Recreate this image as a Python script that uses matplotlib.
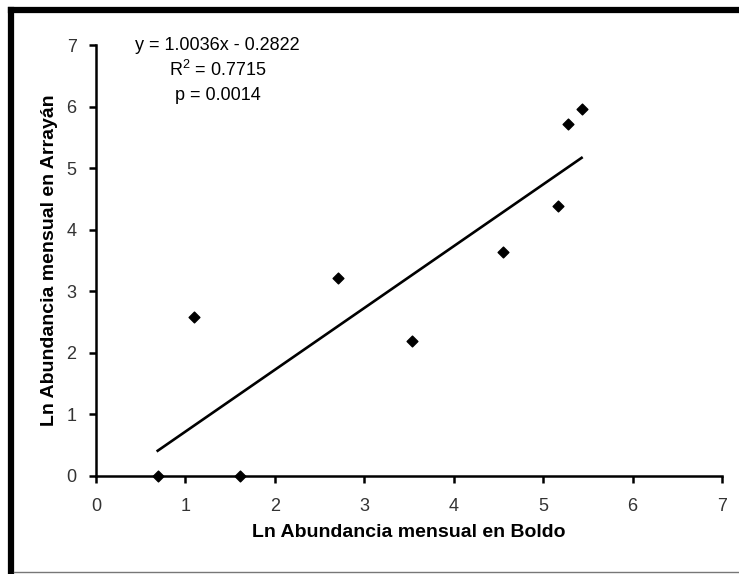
import numpy as np
import matplotlib.pyplot as plt
from matplotlib.lines import Line2D

# Ln monthly abundance, Boldo (x) vs Arrayan (y)
ln_boldo = [0.69, 1.61, 1.10, 2.71, 3.53, 4.55, 5.17, 5.28, 5.43]
ln_arrayan = [0.00, 0.00, 2.58, 3.22, 2.20, 3.64, 4.38, 5.72, 5.96]

slope = 1.0036
intercept = -0.2822
r2 = 0.7715
p_value = 0.0014

ticks = [0, 1, 2, 3, 4, 5, 6, 7]

plt.rcParams['font.family'] = ['Liberation Sans', 'DejaVu Sans']

fig = plt.figure(figsize=(7.39, 5.74), dpi=100)
W, H = 739, 574

# frame of the original (cropped: thick left/top, thin bottom, no right side)
def px(x, y):
  return x / W, 1 - y / H

fig.add_artist(Line2D([px(11, 0)[0], px(11, 0)[0]], [px(0, 10)[1], 0], transform=fig.transFigure,
                      color='black', linewidth=4.5, solid_capstyle='projecting'))
fig.add_artist(Line2D([px(11, 0)[0], 1], [px(0, 10)[1], px(0, 10)[1]], transform=fig.transFigure,
                      color='black', linewidth=4.5, solid_capstyle='projecting'))
fig.add_artist(Line2D([px(14, 0)[0], 1], [px(0, 572)[1], px(0, 572)[1]], transform=fig.transFigure,
                      color='#777777', linewidth=1.0))

ax = fig.add_axes([96/W, 1 - 476/H, 626/W, 431/H])

ax.scatter(ln_boldo, ln_arrayan, marker='D', s=30, color='black', zorder=3, clip_on=False)

xs = np.array([min(ln_boldo), max(ln_boldo)])
ax.plot(xs, slope*xs + intercept, color='black', linewidth=1.9)

ax.set_xlim(0, 7)
ax.set_ylim(0, 7)
ax.set_xticks(ticks)
ax.set_yticks(ticks)
for s in ['top', 'right']:
  ax.spines[s].set_visible(False)
for s in ['left', 'bottom']:
  ax.spines[s].set_linewidth(1.8)
ax.tick_params(direction='out', length=5, width=1.8, labelsize=13, colors='black')
ax.tick_params(axis='x', pad=11)
ax.tick_params(axis='y', pad=9)
for lab in ax.get_xticklabels() + ax.get_yticklabels():
  lab.set_color('#333333')

ax.set_xlabel('Ln Abundancia mensual en Boldo', fontsize=14, fontweight='bold', labelpad=6)
ax.set_ylabel('Ln Abundancia mensual en Arrayán', fontsize=14, fontweight='bold', labelpad=6)

tx = 1.36
ax.text(tx, 6.99, 'y = %.4fx - %.4f' % (slope, -intercept), ha='center', va='center', fontsize=13)
ax.text(tx, 6.59, '$\\mathregular{R^2}$ = %.4f' % r2, ha='center', va='center', fontsize=13)
ax.text(tx, 6.18, 'p = %.4f' % p_value, ha='center', va='center', fontsize=13)

fig.savefig('out.png', dpi=100)
